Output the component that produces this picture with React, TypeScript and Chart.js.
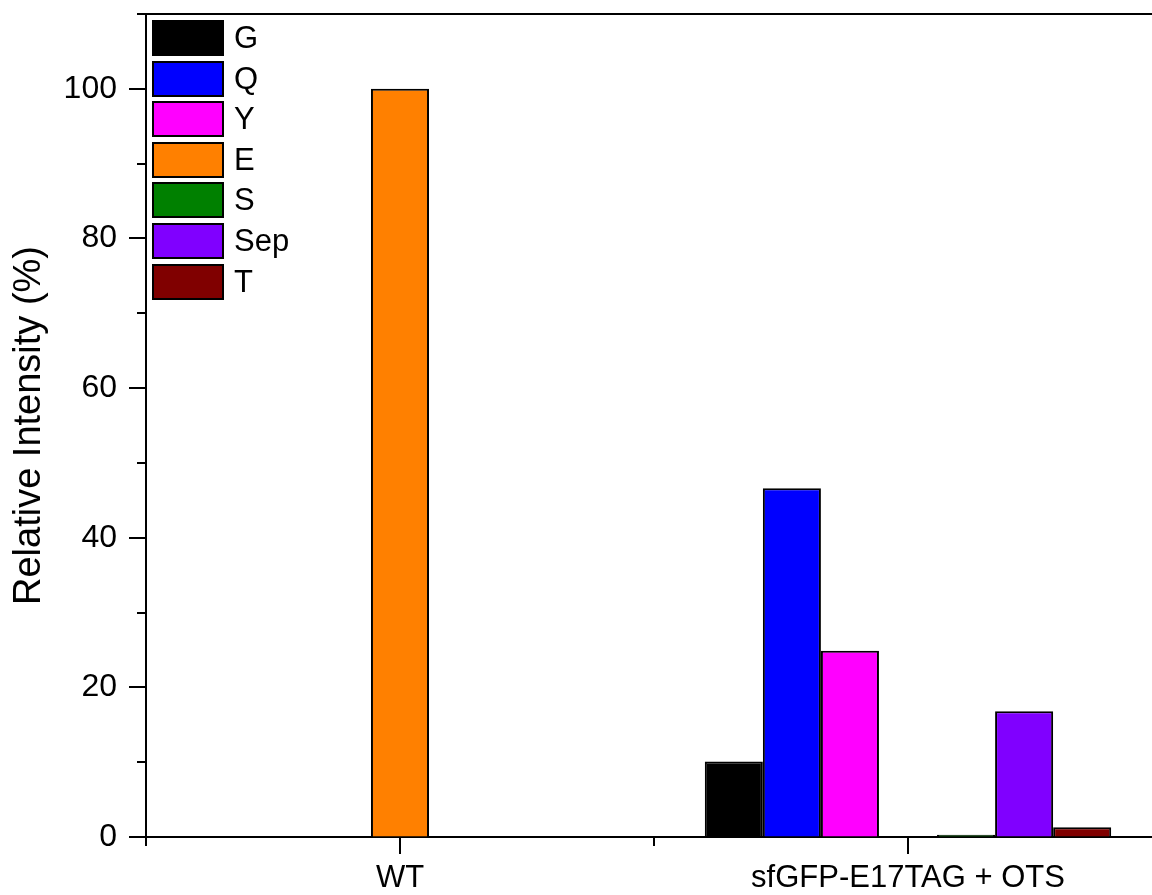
import React, { useEffect, useRef } from 'react';
import { Chart, registerables } from 'chart.js';
Chart.register(...registerables);

const categories = ['WT', 'sfGFP-E17TAG + OTS'];
const seriesNames = ['G', 'Q', 'Y', 'E', 'S', 'Sep', 'T'];
const seriesColors = ['#000000', '#0000FF', '#FF00FF', '#FF8000', '#008000', '#8000FF', '#800000'];
const G = [0, 10.1];
const Q = [0, 46.6];
const Y = [0, 24.9];
const E = [100, 0];
const S = [0, 0.3];
const Sep = [0, 16.8];
const T = [0, 1.3];
const seriesValues = [G, Q, Y, E, S, Sep, T];
const yMajorTicks = [0, 20, 40, 60, 80, 100];
const yMinorTicks = [10, 30, 50, 70, 90, 110];

const FONT = '"Liberation Sans", Arial, sans-serif';

const decoPlugin = {
  id: 'deco',
  afterDraw(chart: any) {
    const { ctx, chartArea: a } = chart;
    const x = chart.scales.x;
    const y = chart.scales.y;
    ctx.save();
    ctx.strokeStyle = '#000';
    ctx.lineWidth = 2;
    ctx.lineCap = 'butt';
    const line = (x1: number, y1: number, x2: number, y2: number) => {
      ctx.beginPath();
      ctx.moveTo(x1, y1);
      ctx.lineTo(x2, y2);
      ctx.stroke();
    };
    // top frame line
    line(a.left, a.top, chart.width, a.top);
    // y ticks
    yMajorTicks.forEach((v) => {
      const py = Math.round(y.getPixelForValue(v));
      line(a.left - 17, py, a.left, py);
    });
    yMinorTicks.forEach((v) => {
      const py = Math.round(y.getPixelForValue(v));
      line(a.left - 9, py, a.left, py);
    });
    // x ticks
    const c0 = x.getPixelForValue(0);
    const step = categories.length > 1 ? x.getPixelForValue(1) - c0 : (a.right - a.left);
    categories.forEach((_, i) => {
      const px = Math.round(x.getPixelForValue(i));
      line(px, a.bottom, px, a.bottom + 17);
    });
    for (let i = 0; i <= categories.length; i++) {
      const px = Math.round(c0 - step / 2 + i * step);
      line(px, a.bottom, px, a.bottom + 9);
    }
    // legend
    const lx = a.left + 6;
    const ly = a.top + 6;
    const bw = 72;
    const bh = 36;
    const gap = 40.6;
    ctx.font = `31px ${FONT}`;
    ctx.textBaseline = 'middle';
    ctx.textAlign = 'left';
    chart.data.datasets.forEach((ds: any, i: number) => {
      const by = Math.round(ly + i * gap);
      ctx.fillStyle = ds.backgroundColor;
      ctx.fillRect(lx, by, bw, bh);
      ctx.strokeStyle = '#000';
      ctx.lineWidth = 2;
      ctx.strokeRect(lx + 1, by + 1, bw - 2, bh - 2);
      ctx.fillStyle = '#000';
      ctx.fillText(ds.label, lx + bw + 10, by + bh / 2 + 1);
    });
    ctx.restore();
  },
};

export default function App() {
  const ref = useRef<HTMLCanvasElement | null>(null);
  useEffect(() => {
    if (!ref.current) return;
    const chart = new Chart(ref.current, {
      type: 'bar',
      data: {
        labels: categories,
        datasets: seriesNames.map((name, i) => ({
          label: name,
          data: seriesValues[i],
          backgroundColor: seriesColors[i],
          borderColor: '#000',
          borderWidth: 2,
          categoryPercentage: 0.8,
          barPercentage: 1.0,
        })),
      },
      options: {
        responsive: false,
        animation: false,
        devicePixelRatio: 1,
        layout: { padding: { top: 14, right: 8, left: 0, bottom: 0 } },
        plugins: {
          legend: { display: false },
          tooltip: { enabled: false },
        },
        scales: {
          x: {
            type: 'category',
            offset: true,
            grid: { display: true, drawOnChartArea: false, drawTicks: true, tickLength: 17, tickColor: 'rgba(0,0,0,0)' },
            border: { display: true, color: '#000', width: 2 },
            ticks: { color: '#000', font: { family: FONT, size: 31 }, padding: 6, maxRotation: 0, autoSkip: false },
            afterFit: (s: any) => {
              s.height = 58;
              s.paddingLeft = 0;
              s.paddingRight = 0;
            },
          },
          y: {
            type: 'linear',
            min: 0,
            max: 110,
            afterBuildTicks: (s: any) => {
              s.ticks = yMajorTicks.map((v) => ({ value: v }));
            },
            grid: { display: true, drawOnChartArea: false, drawTicks: true, tickLength: 17, tickColor: 'rgba(0,0,0,0)' },
            border: { display: true, color: '#000', width: 2 },
            ticks: { color: '#000', font: { family: FONT, size: 32 }, padding: 12 },
            title: {
              display: true,
              text: 'Relative Intensity (%)',
              color: '#000',
              font: { family: FONT, size: 38, weight: 'normal' },
              padding: { top: 7, bottom: 0 },
            },
            afterFit: (s: any) => {
              s.width = 146;
              s.paddingTop = 0;
              s.paddingBottom = 0;
            },
          },
        },
      },
      plugins: [decoPlugin],
    } as any);
    return () => chart.destroy();
  }, []);
  return (
    <div style={{ position: 'absolute', left: 0, top: 0, width: 1152, height: 895, overflow: 'hidden', background: '#fff' }}>
      <canvas ref={ref} width={1170} height={895} style={{ display: 'block' }} />
    </div>
  );
}
